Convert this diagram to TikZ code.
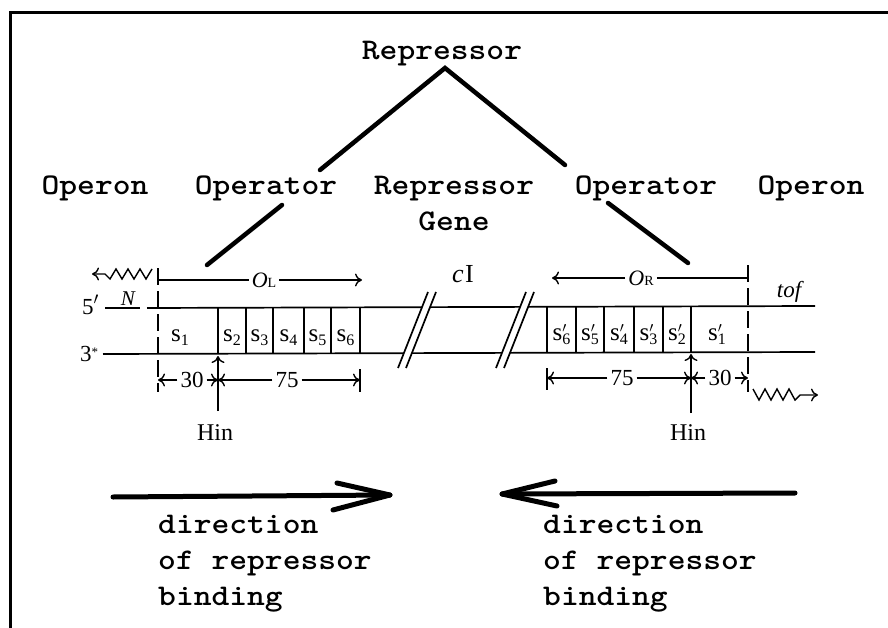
\documentclass[tikz,border=0pt]{standalone}
\usepackage{fontspec}
\setmainfont{Liberation Serif}
\usepackage{graphicx}
\usetikzlibrary{arrows.meta}
\newcommand{\tw}[2][c]{\scalebox{1.13}[1]{\begin{tabular}[t]{@{}#1@{}}#2\end{tabular}}}
\newcommand{\ssub}[1]{s\raisebox{-4pt}{\fontsize{16}{16}\selectfont #1}}
\newcommand{\ssubp}[1]{s\rlap{\raisebox{8pt}{\fontsize{15}{15}\selectfont$\prime$}}\raisebox{-4pt}{\fontsize{16}{16}\selectfont #1}}
\begin{document}
\begin{tikzpicture}[x=1pt,y=-1pt,
  tw/.style={font=\fontsize{30}{36}\selectfont\ttfamily\bfseries, inner sep=0pt, anchor=base},
  rmlab/.style={font=\fontsize{23}{27}\selectfont, inner sep=0pt, anchor=base},
  slab/.style={font=\fontsize{25}{28}\selectfont, inner sep=0pt, anchor=base},
  itlab/.style={font=\fontsize{21}{25}\selectfont\itshape, inner sep=0pt, anchor=base},
  dimlab/.style={font=\fontsize{23}{27}\selectfont, inner xsep=3pt, inner ysep=0pt, anchor=center},
  ln/.style={line width=1.7pt},
  arr/.style={line width=1.4pt,-{Computer Modern Rightarrow[length=7pt,width=13pt,line width=1.4pt]}},
  thickbar/.style={line width=4.5pt, line cap=round},
  bigarrow/.style={line width=5pt, line cap=round, line join=round},
  dsh/.style={line width=1.7pt, dash pattern=on 17pt off 6pt}]
\useasboundingbox (0,0) rectangle (888,628);
\clip (0,0) rectangle (888,628);
% frame
\draw[line width=3pt] (10,640) -- (10,13) -- (900,13);
% typewriter texts
\node[tw] (rep) at (442,60) {\tw{Repressor}};
\node[tw] (opnL) at (95,195) {\tw{Operon}};
\node[tw] (oprL) at (266,195) {\tw{Operator}};
\node[tw] (rgene) at (454,195) {\tw{Repressor\\Gene}};
\node[tw] (oprR) at (646,195) {\tw{Operator}};
\node[tw] (opnR) at (811,195) {\tw{Operon}};
\node[tw, anchor=base west] (dirL) at (158,533) {\tw[l]{direction\\of repressor\\binding}};
\node[tw, anchor=base west] (dirR) at (543,533) {\tw[l]{direction\\of repressor\\binding}};
% connector lines
\coordinate (apex) at (445,68);
\coordinate (oprLtop) at (320,170);
\coordinate (oprRtop) at (565,165);
\coordinate (oprLbot) at (282,205);
\coordinate (OLtip) at (207,265);
\coordinate (oprRbot) at (608,203);
\coordinate (ORtip) at (688,263);
\draw[thickbar] (oprLtop) -- (apex) -- (oprRtop);
\draw[thickbar] (oprLbot) -- (OLtip);
\draw[thickbar] (oprRbot) -- (ORtip);
% strands
\draw[ln] (105,308) -- (140,308);
\draw[ln] (147,308) -- (815,306);
\draw[ln] (103,354) -- (815,352);
\foreach \x in {218,246,273,304,331,360,547,576,604,634,663,691}
  \draw[ln] (\x,307) -- (\x,353);
% breaks
\foreach \a in {398,496} {
  \fill[white] (\a,368) -- (\a+30,292) -- (\a+38,292) -- (\a+8,368) -- cycle;
  \draw[ln] (\a,368) -- (\a+30,292);
  \draw[ln] (\a+8,368) -- (\a+38,292);
}
% dashed boundaries
\draw[dsh] (158,268) -- (158,392);
\draw[dsh] (748,265) -- (748,392);
% strand labels
\node[rmlab, anchor=base west] (five) at (82,314) {5$'$};
\node[itlab] (N) at (128,305) {N};
\node[rmlab, anchor=base west] (three) at (80,361) {3\raisebox{5pt}{\fontsize{13}{13}\selectfont *}};
\node[slab] (s1) at (180,341) {\ssub{1}};
\node[slab] (s2) at (232,341) {\ssub{2}};
\node[slab] (s3) at (259.5,341) {\ssub{3}};
\node[slab] (s4) at (288.5,341) {\ssub{4}};
\node[slab] (s5) at (317.5,341) {\ssub{5}};
\node[slab] (s6) at (345.5,341) {\ssub{6}};
\node[slab] (t6) at (561.5,340) {\ssubp{6}};
\node[slab] (t5) at (590,340) {\ssubp{5}};
\node[slab] (t4) at (619,340) {\ssubp{4}};
\node[slab] (t3) at (648.5,340) {\ssubp{3}};
\node[slab] (t2) at (677,340) {\ssubp{2}};
\node[slab] (t1) at (717,340) {\ssubp{1}};
\node[itlab] (cI) at (463,282) {\fontsize{26}{30}\selectfont c\kern1.5pt\upshape I};
\node[itlab] (tof) at (789,297) {\fontsize{23}{27}\selectfont tof};
% operators
\node[inner xsep=3pt, inner ysep=0pt] (OL) at (264,280) {\fontsize{22}{26}\selectfont\itshape O\upshape\fontsize{14}{16}\selectfont L};
\draw[arr] (OL.east) -- (362,280);
\draw[line width=1.4pt] (OL.west) -- (158,280);
\node[inner xsep=3pt, inner ysep=0pt] (OR) at (641,278) {\fontsize{22}{26}\selectfont\itshape O\upshape\fontsize{14}{16}\selectfont R};
\draw[arr] (OR.west) -- (552,278);
\draw[line width=1.4pt] (OR.east) -- (748,278);
% dimensions left
\node[dimlab] (d30L) at (192,380) {30};
\node[dimlab] (d75L) at (287,380) {75};
\coordinate (jL) at (218,380);
\draw[arr] (d30L.west) -- (158,380);
\draw[arr] (d30L.east) -- (jL);
\draw[arr] (d75L.west) -- (jL);
\draw[arr] (d75L.east) -- (360,380);
\draw[ln] (360,369) -- (360,392);
% dimensions right
\node[dimlab] (d75R) at (622,378) {75};
\node[dimlab] (d30R) at (720,378) {30};
\coordinate (jR) at (691,378);
\draw[arr] (d75R.west) -- (547,378);
\draw[arr] (d75R.east) -- (jR);
\draw[arr] (d30R.west) -- (jR);
\draw[arr] (d30R.east) -- (748,378);
\draw[ln] (547,368) -- (547,390);
% Hin
\node[rmlab, font=\fontsize{24}{28}\selectfont] (hinL) at (215,440) {Hin};
\node[rmlab, font=\fontsize{24}{28}\selectfont] (hinR) at (688,440) {Hin};
\coordinate (hinLtop) at (218,411);
\coordinate (hinRtop) at (691,413);
\draw[arr] (hinLtop) -- (218,356);
\draw[arr] (hinRtop) -- (691,354);
% wavy arrows
\draw[arr] (152,269) -- (146,279) -- (140,269) -- (134,279) -- (128,269) -- (122,279) -- (116,269) -- (110,279) -- (105,274) -- (92,274);
\draw[arr] (753,389) -- (759,400) -- (765,389) -- (771,400) -- (777,389) -- (783,400) -- (789,389) -- (795,400) -- (800,395) -- (818,395);
% big direction arrows
\coordinate (bLt) at (113,497);
\coordinate (bLh) at (390,495);
\draw[bigarrow] (bLt) -- (bLh);
\draw[bigarrow] (337,483) -- (bLh) -- (333,510);
\coordinate (bRt) at (795,493);
\coordinate (bRh) at (502,494);
\draw[bigarrow] (bRt) -- (bRh);
\draw[bigarrow] (555,481) -- (bRh) -- (557,506);
\end{tikzpicture}
\end{document}
